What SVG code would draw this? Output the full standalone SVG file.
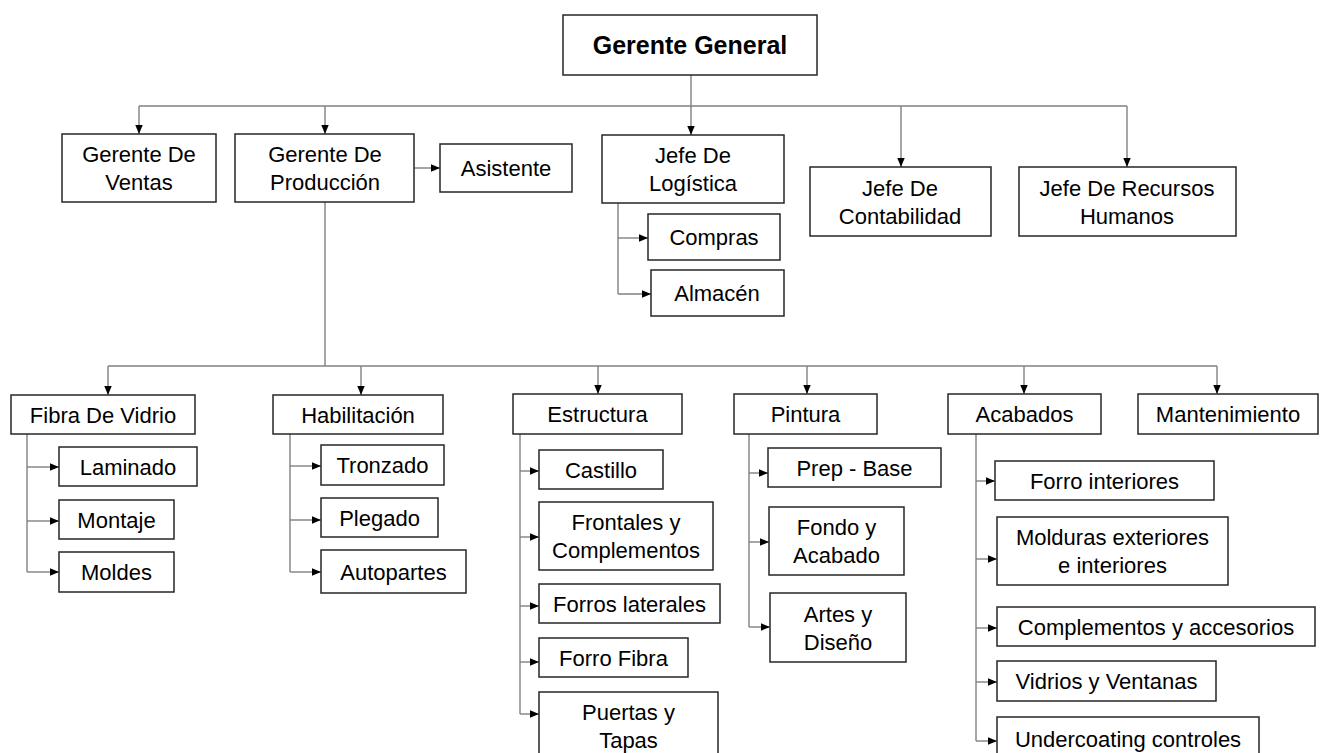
<svg xmlns="http://www.w3.org/2000/svg" width="1325" height="753" viewBox="0 0 1325 753">
<style>
.b{fill:#fff;stroke:#262626;stroke-width:1.5}
.t{font-family:"Liberation Sans",Arial,sans-serif;font-size:22px;fill:#000;text-anchor:middle}
.tb{font-family:"Liberation Sans",Arial,sans-serif;font-size:25px;font-weight:bold;fill:#000;text-anchor:middle}
.c{fill:none;stroke:#808080;stroke-width:1.4}
</style>
<defs>
<marker id="ah" markerUnits="userSpaceOnUse" markerWidth="9" markerHeight="9" viewBox="0 0 9 9" refX="9" refY="4.5" orient="auto">
<path d="M0,0.8 L9,4.5 L0,8.2 Z" fill="#000"/>
</marker>
</defs>
<rect width="1325" height="753" fill="#fff"/>
<g id="connectors">
<path class="c" d="M691,75 V135" marker-end="url(#ah)"/>
<path class="c" d="M139,106 H1127"/>
<path class="c" d="M139,106 V134" marker-end="url(#ah)"/>
<path class="c" d="M325,106 V134" marker-end="url(#ah)"/>
<path class="c" d="M901,106 V167" marker-end="url(#ah)"/>
<path class="c" d="M1127,106 V167" marker-end="url(#ah)"/>
<path class="c" d="M414,168 H440" marker-end="url(#ah)"/>
<path class="c" d="M618,203 V294"/>
<path class="c" d="M618,238 H648" marker-end="url(#ah)"/>
<path class="c" d="M618,294 H651" marker-end="url(#ah)"/>
<path class="c" d="M325,202 V366"/>
<path class="c" d="M108,366 H1217"/>
<path class="c" d="M108,366 V395" marker-end="url(#ah)"/>
<path class="c" d="M361,366 V395" marker-end="url(#ah)"/>
<path class="c" d="M598,366 V394" marker-end="url(#ah)"/>
<path class="c" d="M807,366 V394" marker-end="url(#ah)"/>
<path class="c" d="M1024,366 V394" marker-end="url(#ah)"/>
<path class="c" d="M1217,366 V394" marker-end="url(#ah)"/>
<path class="c" d="M27,434 V572"/>
<path class="c" d="M27,467 H59" marker-end="url(#ah)"/>
<path class="c" d="M27,521 H59" marker-end="url(#ah)"/>
<path class="c" d="M27,572 H59" marker-end="url(#ah)"/>
<path class="c" d="M290,434 V572"/>
<path class="c" d="M290,466 H321" marker-end="url(#ah)"/>
<path class="c" d="M290,520 H321" marker-end="url(#ah)"/>
<path class="c" d="M290,572 H321" marker-end="url(#ah)"/>
<path class="c" d="M520,434 V714"/>
<path class="c" d="M520,471 H539" marker-end="url(#ah)"/>
<path class="c" d="M520,537 H539" marker-end="url(#ah)"/>
<path class="c" d="M520,606 H539" marker-end="url(#ah)"/>
<path class="c" d="M520,662 H539" marker-end="url(#ah)"/>
<path class="c" d="M520,714 H539" marker-end="url(#ah)"/>
<path class="c" d="M749,434 V627"/>
<path class="c" d="M749,473 H768" marker-end="url(#ah)"/>
<path class="c" d="M749,542 H769" marker-end="url(#ah)"/>
<path class="c" d="M749,627 H770" marker-end="url(#ah)"/>
<path class="c" d="M976,434 V741"/>
<path class="c" d="M976,481 H995" marker-end="url(#ah)"/>
<path class="c" d="M976,559 H997" marker-end="url(#ah)"/>
<path class="c" d="M976,628 H997" marker-end="url(#ah)"/>
<path class="c" d="M976,682 H997" marker-end="url(#ah)"/>
<path class="c" d="M976,741 H997" marker-end="url(#ah)"/>
</g>
<g id="gerente-general"><rect class="b" x="563" y="15" width="254" height="60"/><text class="tb" x="690" y="54">Gerente General</text></g>
<g id="gerente-ventas"><rect class="b" x="62" y="134" width="154" height="68"/><text class="t" x="139" y="162">Gerente De</text><text class="t" x="139" y="190">Ventas</text></g>
<g id="gerente-produccion"><rect class="b" x="235" y="134" width="179" height="68"/><text class="t" x="325" y="162">Gerente De</text><text class="t" x="325" y="190">Producción</text></g>
<g id="asistente"><rect class="b" x="440" y="144" width="132" height="48"/><text class="t" x="506" y="176">Asistente</text></g>
<g id="jefe-logistica"><rect class="b" x="602" y="135" width="182" height="68"/><text class="t" x="693" y="163">Jefe De</text><text class="t" x="693" y="191">Logística</text></g>
<g id="compras"><rect class="b" x="648" y="214" width="132" height="46"/><text class="t" x="714" y="245">Compras</text></g>
<g id="almacen"><rect class="b" x="651" y="270" width="133" height="46"/><text class="t" x="717" y="301">Almacén</text></g>
<g id="jefe-contabilidad"><rect class="b" x="810" y="167" width="181" height="69"/><text class="t" x="900" y="195.5">Jefe De</text><text class="t" x="900" y="223.5">Contabilidad</text></g>
<g id="jefe-rrhh"><rect class="b" x="1019" y="167" width="217" height="69"/><text class="t" x="1127" y="195.5">Jefe De Recursos</text><text class="t" x="1127" y="223.5">Humanos</text></g>
<g id="fibra"><rect class="b" x="11" y="395" width="184" height="39"/><text class="t" x="103" y="422.5">Fibra De Vidrio</text></g>
<g id="laminado"><rect class="b" x="59" y="447" width="138" height="39"/><text class="t" x="128" y="474.5">Laminado</text></g>
<g id="montaje"><rect class="b" x="59" y="500" width="115" height="39"/><text class="t" x="116.5" y="527.5">Montaje</text></g>
<g id="moldes"><rect class="b" x="59" y="552" width="115" height="40"/><text class="t" x="116.5" y="580">Moldes</text></g>
<g id="habilitacion"><rect class="b" x="273" y="395" width="170" height="39"/><text class="t" x="358" y="422.5">Habilitación</text></g>
<g id="tronzado"><rect class="b" x="321" y="445" width="123" height="40"/><text class="t" x="382.5" y="473">Tronzado</text></g>
<g id="plegado"><rect class="b" x="321" y="498" width="117" height="39"/><text class="t" x="379.5" y="525.5">Plegado</text></g>
<g id="autopartes"><rect class="b" x="321" y="550" width="145" height="43"/><text class="t" x="393.5" y="579.5">Autopartes</text></g>
<g id="estructura"><rect class="b" x="513" y="394" width="169" height="40"/><text class="t" x="597.5" y="422">Estructura</text></g>
<g id="castillo"><rect class="b" x="539" y="450" width="124" height="39"/><text class="t" x="601" y="477.5">Castillo</text></g>
<g id="frontales"><rect class="b" x="539" y="502" width="174" height="68"/><text class="t" x="626" y="530">Frontales y</text><text class="t" x="626" y="558">Complementos</text></g>
<g id="forros-laterales"><rect class="b" x="539" y="584" width="181" height="39"/><text class="t" x="629.5" y="611.5">Forros laterales</text></g>
<g id="forro-fibra"><rect class="b" x="539" y="638" width="149" height="39"/><text class="t" x="613.5" y="665.5">Forro Fibra</text></g>
<g id="puertas"><rect class="b" x="539" y="692" width="179" height="68"/><text class="t" x="628.5" y="720">Puertas y</text><text class="t" x="628.5" y="748">Tapas</text></g>
<g id="pintura"><rect class="b" x="734" y="394" width="143" height="40"/><text class="t" x="805.5" y="422">Pintura</text></g>
<g id="prep-base"><rect class="b" x="768" y="448" width="173" height="39"/><text class="t" x="854.5" y="475.5">Prep - Base</text></g>
<g id="fondo"><rect class="b" x="769" y="507" width="135" height="68"/><text class="t" x="836.5" y="535">Fondo y</text><text class="t" x="836.5" y="563">Acabado</text></g>
<g id="artes"><rect class="b" x="770" y="593" width="136" height="69"/><text class="t" x="838" y="621.5">Artes y</text><text class="t" x="838" y="649.5">Diseño</text></g>
<g id="acabados"><rect class="b" x="948" y="394" width="153" height="40"/><text class="t" x="1024.5" y="422">Acabados</text></g>
<g id="mantenimiento"><rect class="b" x="1138" y="394" width="180" height="40"/><text class="t" x="1228" y="422">Mantenimiento</text></g>
<g id="forro-interiores"><rect class="b" x="995" y="461" width="219" height="39"/><text class="t" x="1104.5" y="488.5">Forro interiores</text></g>
<g id="molduras"><rect class="b" x="997" y="517" width="231" height="68"/><text class="t" x="1112.5" y="545">Molduras exteriores</text><text class="t" x="1112.5" y="573">e interiores</text></g>
<g id="complementos-accesorios"><rect class="b" x="997" y="607" width="318" height="39"/><text class="t" x="1156" y="634.5">Complementos y accesorios</text></g>
<g id="vidrios"><rect class="b" x="997" y="661" width="219" height="40"/><text class="t" x="1106.5" y="689">Vidrios y Ventanas</text></g>
<g id="undercoating"><rect class="b" x="997" y="717" width="262" height="44"/><text class="t" x="1128" y="747">Undercoating controles</text></g>
</svg>
